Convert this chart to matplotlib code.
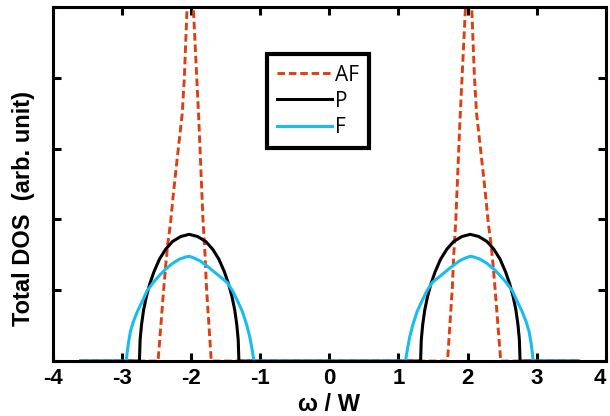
import numpy as np
import matplotlib.pyplot as plt
import matplotlib.transforms as mtransforms

# curves (omega/W, DOS in tick units)
af_x = [-3.6, -2.48, -2.46, -2.44, -2.42, -2.40, -2.37, -2.34, -2.30, -2.26, -2.21, -2.17,
        -2.13, -2.10, -2.08, -2.06, -2.04,
        -1.96, -1.97, -1.93, -1.89, -1.86, -1.83, -1.80, -1.78, -1.75, -1.73, -1.71,
        1.71, 1.73, 1.75, 1.78, 1.80, 1.83, 1.86, 1.89, 1.93, 1.97, 1.96,
        2.04, 2.06, 2.08, 2.10, 2.13, 2.17, 2.21, 2.26, 2.30, 2.34, 2.37, 2.40,
        2.42, 2.44, 2.46, 2.48, 3.6]
af_y = [0, 0, 0.25, 0.5, 0.75, 1.0, 1.35, 1.65, 1.95, 2.35, 2.8, 3.15,
        3.5, 4.0, 4.5, 5.0, 5.6,
        5.6, 5.0, 4.2, 3.4, 2.7, 2.0, 1.5, 1.05, 0.6, 0.3, 0,
        0, 0.3, 0.6, 1.05, 1.5, 2.0, 2.7, 3.4, 4.2, 5.0, 5.6,
        5.6, 5.0, 4.5, 4.0, 3.5, 3.15, 2.8, 2.35, 1.95, 1.65, 1.35, 1.0,
        0.75, 0.5, 0.25, 0, 0]

p_x = [-3.6, -2.75, -2.74, -2.72, -2.69, -2.65, -2.60, -2.54, -2.46, -2.37, -2.27, -2.15, -2.03,
       -1.91, -1.79, -1.69, -1.60, -1.52, -1.46, -1.41, -1.37, -1.34, -1.32, -1.31,
       1.32, 1.33, 1.35, 1.38, 1.42, 1.47, 1.53, 1.61, 1.70, 1.80, 1.92, 2.04,
       2.16, 2.28, 2.38, 2.47, 2.55, 2.61, 2.66, 2.70, 2.73, 2.75, 2.76, 3.6]
p_y = [0, 0, 0.30, 0.51, 0.72, 0.91, 1.09, 1.26, 1.44, 1.58, 1.69, 1.76, 1.79,
       1.76, 1.69, 1.58, 1.44, 1.26, 1.09, 0.91, 0.72, 0.51, 0.30, 0,
       0, 0.30, 0.51, 0.72, 0.91, 1.09, 1.26, 1.44, 1.58, 1.69, 1.76, 1.79,
       1.76, 1.69, 1.58, 1.44, 1.26, 1.09, 0.91, 0.72, 0.51, 0.30, 0, 0]

f_x = [-3.6, -2.94, -2.93, -2.91, -2.88, -2.84, -2.78, -2.71, -2.64, -2.55, -2.46, -2.37,
       -2.27, -2.17, -2.08, -2.03, -1.97, -1.88, -1.78, -1.68, -1.58, -1.48, -1.40,
       -1.33, -1.26, -1.20, -1.15, -1.12, -1.10, -1.09,
       1.10, 1.11, 1.13, 1.16, 1.21, 1.27, 1.34, 1.41, 1.49, 1.59, 1.69, 1.79, 1.89,
       1.98, 2.04, 2.09, 2.18, 2.28, 2.38, 2.47, 2.56, 2.65, 2.72, 2.79, 2.85, 2.89,
       2.92, 2.94, 2.95, 3.6]
f_y = [0, 0, 0.10, 0.25, 0.42, 0.55, 0.70, 0.84, 0.99, 1.11, 1.21, 1.30,
       1.38, 1.44, 1.47, 1.48, 1.46, 1.42, 1.35, 1.27, 1.19, 1.11, 0.99,
       0.85, 0.70, 0.52, 0.33, 0.17, 0.05, 0,
       0, 0.05, 0.17, 0.33, 0.52, 0.70, 0.85, 0.99, 1.11, 1.19, 1.27, 1.35, 1.42,
       1.46, 1.48, 1.47, 1.44, 1.38, 1.30, 1.21, 1.11, 0.99, 0.84, 0.70, 0.55, 0.42,
       0.25, 0.10, 0, 0]

x_ticks = [-4, -3, -2, -1, 0, 1, 2, 3, 4]

plt.rcParams["font.family"] = ["Liberation Sans", "DejaVu Sans"]

fig = plt.figure(figsize=(6.1, 4.16), dpi=100)
ax = fig.add_axes([0.087, 0.132, 0.906, 0.851])

ax.plot(af_x, af_y, color="#dc4012", lw=2.1, dashes=(2.6, 1.3), label="AF")
ax.plot(p_x, p_y, color="black", lw=2.2, label="P")
ax.plot(f_x, f_y, color="#18bdf0", lw=2.2, label="F")

ax.set_xlim(-4, 4)
ax.set_ylim(0, 5)
ax.set_xticks(x_ticks)
ax.set_xticklabels([str(t) for t in x_ticks], fontweight="bold", fontsize=16)
ax.set_yticks([0, 1, 2, 3, 4, 5])
ax.set_yticklabels([])
ax.tick_params(direction="in", length=6, width=2.2, top=True, right=True, pad=5)
for s in ax.spines.values():
    s.set_linewidth(2.2)

# last label sits on the figure edge; nudge it inwards a little
last = ax.get_xticklabels()[-1]
last.set_transform(last.get_transform() + mtransforms.ScaledTranslation(-4 / 72, 0, fig.dpi_scale_trans))

ax.set_xlabel("ω / W", fontweight="bold", fontsize=17, labelpad=3)
ax.set_ylabel("Total DOS  (arb. unit)", fontweight="bold", fontsize=17)
ax.yaxis.set_label_coords(-0.033, 0.43)

leg = ax.legend(loc="upper left", bbox_to_anchor=(0.387, 0.867), borderaxespad=0,
                fancybox=False, framealpha=1, handlelength=2.6, handletextpad=0.15,
                labelspacing=0.25, borderpad=0.5, prop={"family": "Open Sans", "size": 15})
leg.get_frame().set_edgecolor("black")
leg.get_frame().set_linewidth(3)

plt.savefig("out.png", dpi=100)
